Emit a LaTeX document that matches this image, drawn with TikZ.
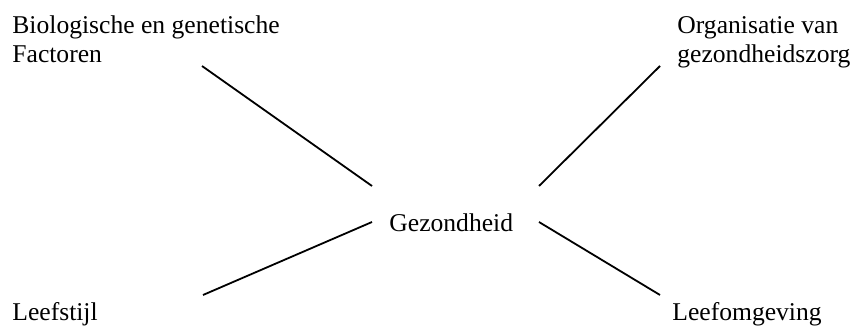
\documentclass[tikz,border=0pt]{standalone}
\usepackage{fontspec}
\setmainfont{Liberation Serif}
\usepackage{tikz}
\usetikzlibrary{positioning}

\begin{document}
\begin{tikzpicture}[x=0.5pt, y=-0.5pt,
    factor/.style={anchor=base west, inner sep=0pt, align=left,
                   font=\fontsize{12.8}{14.8}\selectfont},
    link/.style={line width=0.9pt}]
    % Frame
    \useasboundingbox (0, 0) rectangle (860, 326);
    % Labels (base = last line)
    \node [factor] (bio) at (12, 63) {Biologische en genetische\\Factoren};
    \node [factor] (org) at (677, 63) {Organisatie van\\gezondheidszorg};
    \node [factor] (gez) at (389, 231) {Gezondheid};
    \node [factor] (stijl) at (12, 320) {Leefstijl};
    \node [factor] (omg) at (672, 320) {Leefomgeving};
    % Line ends
    \coordinate (bio-e) at (202, 66);
    \coordinate (org-e) at (660, 66);
    \coordinate (stijl-e) at (203, 295);
    \coordinate (omg-e) at (660, 295);
    \coordinate (gez-nw) at (372, 186);
    \coordinate (gez-ne) at (539, 186);
    \coordinate (gez-w) at (372, 222);
    \coordinate (gez-e) at (539, 222);
    % Lines
    \draw [link] (bio-e) -- (gez-nw);
    \draw [link] (org-e) -- (gez-ne);
    \draw [link] (stijl-e) -- (gez-w);
    \draw [link] (omg-e) -- (gez-e);
\end{tikzpicture}
\end{document}
